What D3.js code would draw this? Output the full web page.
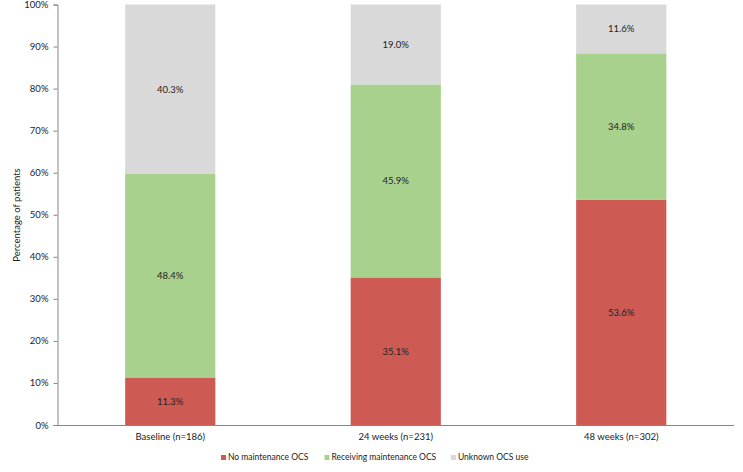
<!DOCTYPE html>
<html><head><meta charset="utf-8">
<script src="https://cdn.jsdelivr.net/npm/d3@7"></script>
<style>body{margin:0;background:#fff;} text{font-family:Lato,"Open Sans",sans-serif;fill:#222;}</style>
</head><body><svg id="c" width="743" height="472"></svg>
<script>
const categories = ["Baseline (n=186)", "24 weeks (n=231)", "48 weeks (n=302)"];
const seriesNames = ["No maintenance OCS", "Receiving maintenance OCS", "Unknown OCS use"];
const noMaintenance = [11.3, 35.1, 53.6];
const receiving = [48.4, 45.9, 34.8];
const unknown = [40.3, 19.0, 11.6];
const yTicks = [0,10,20,30,40,50,60,70,80,90,100];
const colors = ["#cd5b54", "#a9d18e", "#d9d9d9"];

const svg = d3.select("#c");
const FS = 9.5;
const mLeft = 57.5, mRight = 734, mTop = 4.5, mBottom = 425;
const x = d3.scaleBand().domain(categories).range([mLeft, mRight]).paddingInner(0.6).paddingOuter(0.3);
const y = d3.scaleLinear().domain([0,100]).range([mBottom, mTop]);

const rows = categories.map((c,i)=>({cat:c, a:noMaintenance[i], b:receiving[i], c2:unknown[i]}));
const stack = d3.stack().keys(["a","b","c2"])(rows);

stack.forEach((layer, li) => {
  const g = svg.append("g");
  g.selectAll("rect").data(layer).join("rect")
    .attr("x", d=>x(d.data.cat)).attr("width", x.bandwidth())
    .attr("y", d=>y(d[1])).attr("height", d=>y(d[0])-y(d[1]))
    .attr("fill", colors[li]);
  g.selectAll("text").data(layer).join("text")
    .attr("x", d=>x(d.data.cat)+x.bandwidth()/2)
    .attr("y", d=>(y(d[0])+y(d[1]))/2)
    .attr("dy","0.35em").attr("text-anchor","middle")
    .attr("font-size", FS)
    .text(d=>(d[1]-d[0]).toFixed(1)+"%");
});

const ya = svg.append("g").attr("transform",`translate(${mLeft},0)`)
  .call(d3.axisLeft(y).tickValues(yTicks).tickSize(4).tickPadding(5).tickFormat(d=>d+"%"));
ya.select(".domain").attr("stroke","#868686");
ya.selectAll(".tick line").attr("stroke","#868686");
ya.selectAll("text").attr("font-size",FS).attr("fill","#404040");

const xa = svg.append("g").attr("transform",`translate(0,${mBottom})`)
  .call(d3.axisBottom(x).tickSize(0).tickPadding(8));
xa.select(".domain").attr("stroke","#868686").attr("d",`M${mLeft},0.5H${mRight}`);
xa.selectAll("text").attr("font-size",FS).attr("fill","#404040");

svg.append("text").attr("transform",`translate(20,215) rotate(-90)`)
  .attr("text-anchor","middle").attr("font-size",FS).attr("fill","#404040").text("Percentage of patients");

const legX = [221, 324.5, 451];
seriesNames.forEach((n,i)=>{
  svg.append("rect").attr("x",legX[i]).attr("y",455).attr("width",5).attr("height",5).attr("fill",colors[i]);
  svg.append("text").attr("x",legX[i]+7).attr("y",457.5).attr("dy","0.35em").attr("font-size",8.5).attr("fill","#404040").text(n);
});
</script></body></html>
